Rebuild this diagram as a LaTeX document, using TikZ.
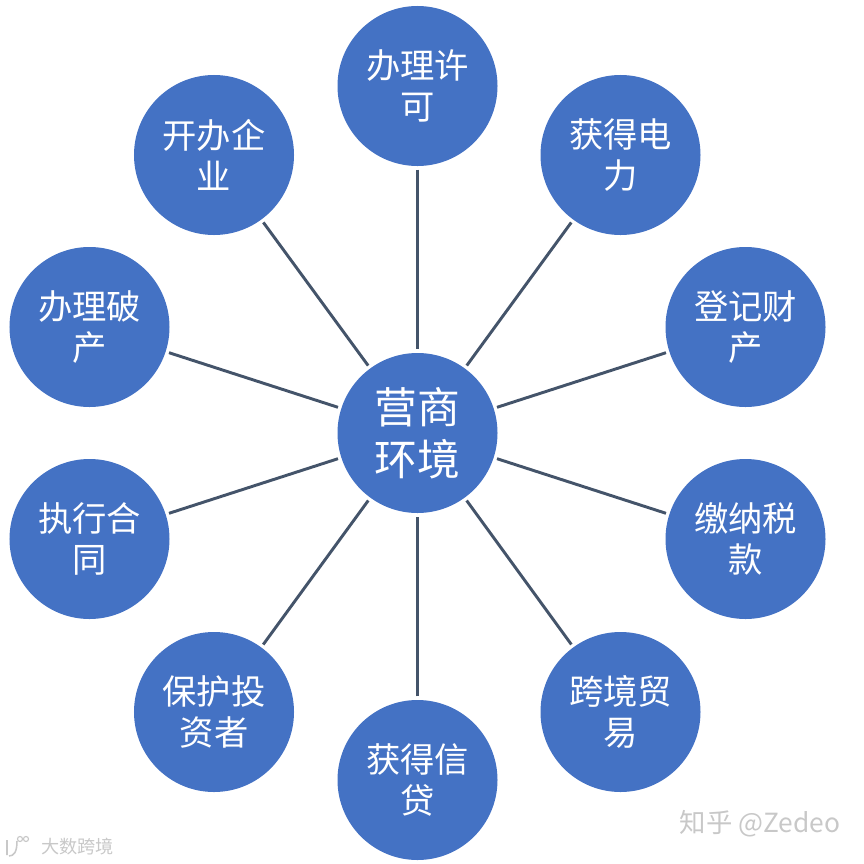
\documentclass[tikz,border=0pt]{standalone}
\usepackage{fontspec}
\setmainfont{Noto Sans CJK SC}
\definecolor{circleblue}{HTML}{4472C4}
\definecolor{spokegray}{HTML}{44546A}
\definecolor{markgray}{HTML}{C8C8C8}

\begin{document}
\begin{tikzpicture}[
    x=0.03cm, y=-0.03cm,
    topic/.style={circle, fill=circleblue, text=white, minimum size=4.8cm, inner sep=0pt, outer sep=3pt, align=center, font=\fontsize{29.3}{35.5}\selectfont},
    hub/.style={topic, font=\fontsize{36.5}{44}\selectfont},
    spoke/.style={draw=spokegray, line width=2.5pt},
    stamp/.style={text=markgray, inner sep=0pt}
]
\useasboundingbox (0,0) rectangle (864,863);
\node[hub] (env) at (417.5,433) {营商\\环境};
\node[topic] (permit) at (417.5,86) {办理许\\可};
\node[topic] (power) at (620.5,155) {获得电\\力};
\node[topic] (property) at (745.5,327) {登记财\\产};
\node[topic] (tax) at (745.5,539) {缴纳税\\款};
\node[topic] (trade) at (620.5,712) {跨境贸\\易};
\node[topic] (credit) at (417.5,780) {获得信\\贷};
\node[topic] (investor) at (214,712) {保护投\\资者};
\node[topic] (contract) at (89.5,539) {执行合\\同};
\node[topic] (bankrupt) at (89.5,327) {办理破\\产};
\node[topic] (startup) at (214,155) {开办企\\业};

\draw[spoke] (permit) -- (env);
\draw[spoke] (power) -- (env);
\draw[spoke] (property) -- (env);
\draw[spoke] (tax) -- (env);
\draw[spoke] (trade) -- (env);
\draw[spoke] (credit) -- (env);
\draw[spoke] (investor) -- (env);
\draw[spoke] (contract) -- (env);
\draw[spoke] (bankrupt) -- (env);
\draw[spoke] (startup) -- (env);

\node[stamp, font=\fontsize{22.5}{26}\selectfont] (zhihu) at (760,824) {知乎 @Zedeo};
\node[stamp, font=\fontsize{15.5}{18}\selectfont] (source) at (77.5,847) {大数跨境};
\draw[markgray, line width=1.3pt] (7,840) -- (7,855) (17,841) .. controls (17,852) and (14,856) .. (9,856);
\draw[markgray, line width=1pt] (20,839) circle (2.5) (26,839) circle (2.5);
\end{tikzpicture}
\end{document}
